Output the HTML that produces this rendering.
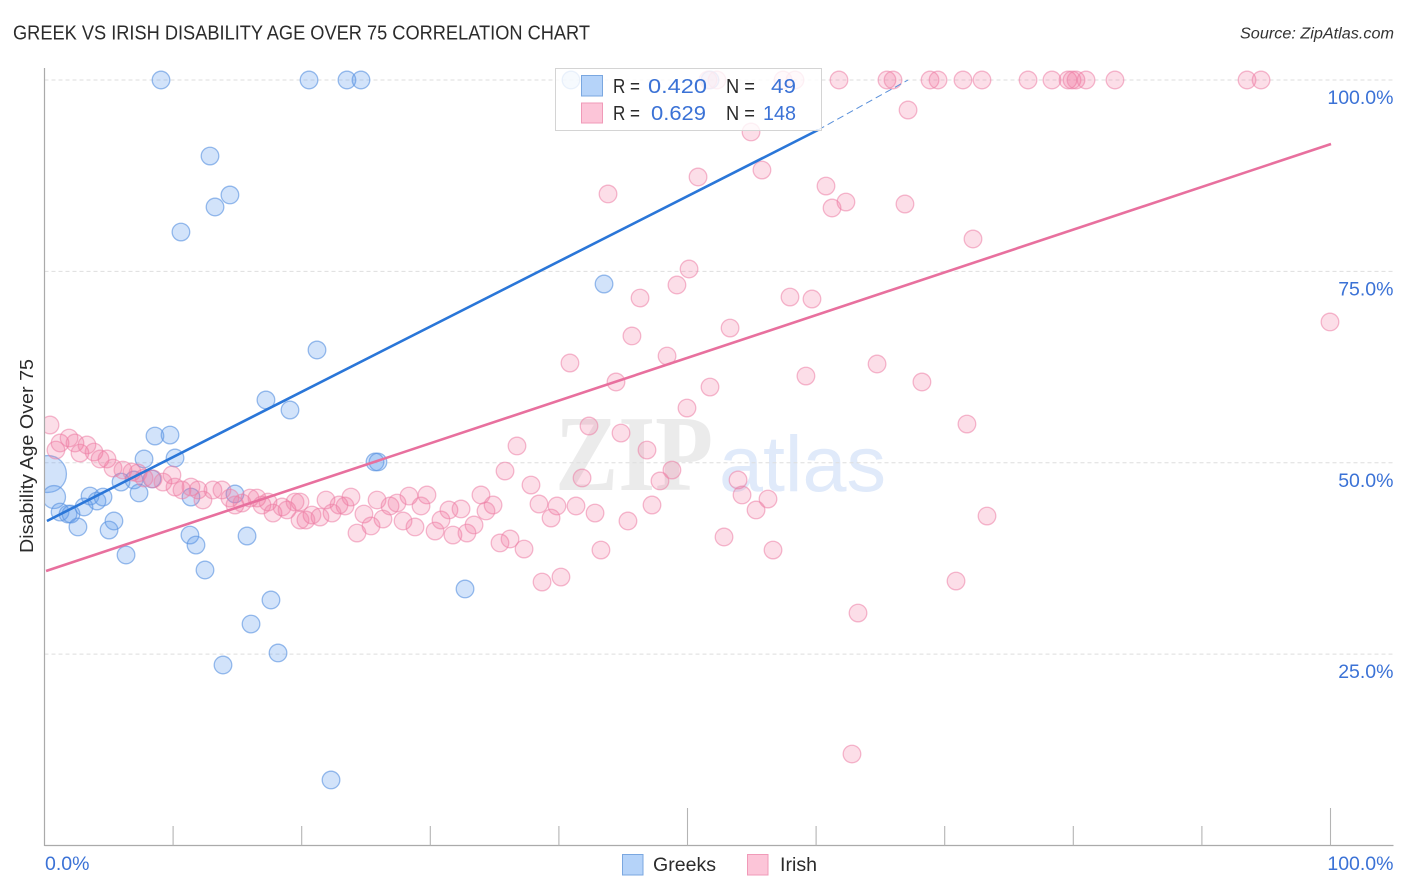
<!DOCTYPE html>
<html lang="en">
<head>
<meta charset="utf-8">
<title>Greek vs Irish Disability Age Over 75 Correlation Chart</title>
<style>
html,body{margin:0;padding:0;background:#fff;}
svg{display:block;font-family:"Liberation Sans",sans-serif;}
</style>
</head>
<body>
<svg id="chart" xmlns="http://www.w3.org/2000/svg" width="1406" height="892" viewBox="0 0 1406 892">
  <defs>
    <clipPath id="plot-clip"><rect x="44.5" y="60" width="1349" height="786"></rect></clipPath>
  </defs>
  <rect x="0" y="0" width="1406" height="892" fill="#ffffff"></rect>
  <text x="13" y="39.5" font-size="20" fill="#2b2b2b" textLength="577" lengthAdjust="spacingAndGlyphs">GREEK VS IRISH DISABILITY AGE OVER 75 CORRELATION CHART</text>
  <text x="1394" y="38.5" font-size="15.5" font-style="italic" fill="#333333" text-anchor="end" textLength="154" lengthAdjust="spacingAndGlyphs">Source: ZipAtlas.com</text>
  <g>
    <text x="555" y="490" font-family="'Liberation Serif',serif" font-weight="bold" font-size="108" fill="#ebebeb" textLength="158" lengthAdjust="spacingAndGlyphs">ZIP</text>
    <text x="719" y="491" font-size="79" fill="#e0eafa" textLength="167" lengthAdjust="spacingAndGlyphs">atlas</text>
  </g>
  <g id="grid"></g>
  <g id="points" clip-path="url(#plot-clip)"></g>
  <g id="trends"></g>
  <g id="axes"></g>
  <text transform="translate(33 456) rotate(-90)" font-size="18.5" fill="#2b2b2b" text-anchor="middle" textLength="194" lengthAdjust="spacingAndGlyphs">Disability Age Over 75</text>
  <g>
    <rect x="555.5" y="68.5" width="266" height="62" fill="#ffffff" fill-opacity="0.8" stroke="#d4d4d4" stroke-width="1"></rect>
    <rect x="581.5" y="75.5" width="21" height="20.5" fill="#b5d3f9" stroke="#7aa7e0"></rect>
    <rect x="581.5" y="103" width="21" height="20" fill="#fcc5d8" stroke="#f09ab8"></rect>
    <g font-size="20.5">
      <text x="613" y="93" fill="#2b2b2b" textLength="27" lengthAdjust="spacingAndGlyphs">R =</text>
      <text x="648" y="93" fill="#3b72d6" textLength="59" lengthAdjust="spacingAndGlyphs">0.420</text>
      <text x="726" y="93" fill="#2b2b2b" textLength="29" lengthAdjust="spacingAndGlyphs">N =</text>
      <text x="771" y="93" fill="#3b72d6" textLength="25" lengthAdjust="spacingAndGlyphs">49</text>
      <text x="613" y="120" fill="#2b2b2b" textLength="27" lengthAdjust="spacingAndGlyphs">R =</text>
      <text x="651" y="120" fill="#3b72d6" textLength="55" lengthAdjust="spacingAndGlyphs">0.629</text>
      <text x="726" y="120" fill="#2b2b2b" textLength="29" lengthAdjust="spacingAndGlyphs">N =</text>
      <text x="763" y="120" fill="#3b72d6" textLength="33" lengthAdjust="spacingAndGlyphs">148</text>
    </g>
  </g>
  <g>
    <rect x="622.5" y="854.5" width="20.5" height="20.5" fill="#b5d3f9" stroke="#7aa7e0"></rect>
    <text x="653" y="871" font-size="19.5" fill="#2b2b2b" textLength="63" lengthAdjust="spacingAndGlyphs">Greeks</text>
    <rect x="747.5" y="854.5" width="20.5" height="20.5" fill="#fcc5d8" stroke="#f09ab8"></rect>
    <text x="780" y="871" font-size="19.5" fill="#2b2b2b" textLength="37" lengthAdjust="spacingAndGlyphs">Irish</text>
  </g>
</svg>
<script>
const greekX = [0.27,0.74,9.06,20.57,23.52,24.61,40.94,51.75,12.87,13.26,14.42,10.61,43.51,21.19,17.22,19.09,8.59,9.76,10.15,7.74,25.70,25.93,5.95,6.96,7.35,8.36,3.54,4.08,4.55,11.39,14.81,1.21,1.83,2.06,3.07,2.60,5.02,5.40,6.34,11.31,11.78,12.48,15.75,17.61,16.06,18.16,13.88,22.28,32.70];
const greekY = [48.53,45.52,100,100,100,100,100,100,90.07,83.41,84.98,80.14,73.35,64.73,58.20,56.89,53.49,53.62,50.62,50.49,50.10,50.10,47.48,47.75,46.05,47.88,45.65,45.00,45.52,45.52,45.92,43.56,43.30,43.30,44.22,41.61,41.21,42.39,37.95,40.56,39.25,35.99,40.43,32.07,28.93,25.15,23.58,8.56,33.51];
const greekWeight = [4.4,1.7];
const irishX = [51.59,52.29,57.43,58.36,61.78,65.51,65.98,68.86,69.48,71.42,72.90,76.48,78.34,79.59,79.90,80.21,80.99,83.24,93.51,94.60,
67.15,54.94,55.79,50.82,43.82,60.77,62.32,61.24,66.91,72.20,50.12,49.18,46.31,57.97,59.68,53.31,99.96,45.68,48.41,40.86,64.74,59.21,44.44,51.75,68.23,49.96,42.34,71.73,44.83,36.74,46.85,35.81,48.79,41.80,47.86,53.93,37.83,54.24,56.26,38.45,47.24,39.85,41.33,42.81,39.39,55.33,45.37,73.29,52.84,35.42,36.20,37.29,43.27,56.65,38.69,40.16,70.88,63.26,62.79,
21.89,22.90,23.83,23.37,22.36,21.42,20.80,20.33,19.87,24.84,25.86,26.87,27.41,28.34,29.74,29.28,27.88,26.32,25.39,24.30,28.81,30.37,30.83,31.45,32.39,31.76,32.85,33.40,33.94,34.88,34.33,
0.43,0.89,1.21,1.91,2.37,2.76,3.30,3.85,4.32,4.86,5.33,6.10,6.80,7.27,7.74,8.44,9.21,9.91,10.15,10.69,11.39,11.94,12.32,13.10,13.80,14.42,14.81,15.36,15.98,16.52,16.91,17.38,17.77,18.47,18.86,19.48,19.87];
const irishY = [100,100,100,100,100,100,100,100,100,100,100,100,100,100,100,100,100,100,100,100,
96.08,93.21,88.24,87.33,85.11,86.15,84.06,83.28,83.80,79.23,75.31,73.22,71.52,71.65,71.39,67.60,68.39,66.56,63.94,63.03,62.90,61.33,60.55,59.89,60.55,57.15,54.80,55.06,53.88,52.19,51.66,48.92,49.05,48.01,47.62,47.75,47.09,45.79,45.26,44.61,44.48,44.35,44.35,43.43,42.78,43.83,42.39,43.04,40.30,39.52,40.04,38.73,38.60,38.60,34.42,35.07,34.55,30.37,11.95,
45.13,44.48,45.52,44.35,43.43,42.91,43.17,42.52,44.87,43.30,45.13,44.35,44.74,45.65,45.79,44.35,42.39,42.65,41.74,40.82,41.61,41.08,42.52,43.83,43.96,40.56,40.82,41.87,45.79,44.48,43.70,
54.93,51.66,52.58,53.23,52.58,51.27,52.32,51.40,50.49,50.49,49.31,49.05,48.79,48.66,48.01,47.88,47.48,48.40,46.83,46.44,46.83,46.44,45.13,46.44,46.44,45.39,44.48,44.74,45.39,45.39,44.48,44.87,43.43,44.22,43.83,44.87,42.52];
const greekTrendX = [0.19,60.15,67.15];
const greekTrendY = [42.39,93.47,100];
const irishTrendX = [0.12,100.04];
const irishTrendY = [35.86,91.64];
const yTicks = [100,75,50,25];
const yTickLabels = ["100.0%","75.0%","50.0%","25.0%"];
const xTicks = [10,20,30,40,50,60,70,80,90,100];
const xMajorTicks = [50,100];
const xTickLabels = ["0.0%","100.0%"];

const NS = "http://www.w3.org/2000/svg";
const plot = {left:44.5, right:1330.5, top:80, bottom:845.5, axisEnd:1393.5, axisTop:68};
const baseRadius = 8.8;
function xScale(v){ return plot.left + (v/100)*(plot.right-plot.left); }
function yScale(v){ return plot.bottom - (v/100)*(plot.bottom-plot.top); }
function make(tag, parent, attrs){
  const el = document.createElementNS(NS, tag);
  for (const k in attrs) el.setAttribute(k, attrs[k]);
  parent.appendChild(el);
  return el;
}
const gridG = document.getElementById('grid');
const pointsG = document.getElementById('points');
const trendsG = document.getElementById('trends');
const axesG = document.getElementById('axes');

yTicks.forEach(function(t, i){
  const line = make('line', gridG, {x1:plot.left, x2:plot.axisEnd, y1:yScale(t), y2:yScale(t), stroke:'#dedede', 'stroke-width':1, 'stroke-dasharray':'4 3'});
  
  
  const label = make('text', axesG, {x:1393.5, y:yScale(t)+24, 'font-size':19.5, fill:'#3b72d6', 'text-anchor':'end'});
  
  
  label.textContent = yTickLabels[i];
});

greekX.forEach(function(x, i){
  const w = greekWeight[i] === undefined ? 1 : greekWeight[i];
  const c = make('circle', pointsG, {cx:xScale(x), cy:yScale(greekY[i]), r:baseRadius*Math.sqrt(w), fill:'#5e9bec', 'fill-opacity':0.28, stroke:'#5b93e0', 'stroke-opacity':0.62, 'stroke-width':1.3});
  
  
});
irishX.forEach(function(x, i){
  const c = make('circle', pointsG, {cx:xScale(x), cy:yScale(irishY[i]), r:baseRadius, fill:'#f2709c', 'fill-opacity':0.23, stroke:'#ec7fa5', 'stroke-opacity':0.55, 'stroke-width':1.3});
  
  
});

const blueSolid = make('line', trendsG, {x1:xScale(greekTrendX[0]), y1:yScale(greekTrendY[0]), x2:xScale(greekTrendX[1]), y2:yScale(greekTrendY[1]), stroke:'#2a76d8', 'stroke-width':2.6});


const blueDash = make('line', trendsG, {x1:xScale(greekTrendX[1]), y1:yScale(greekTrendY[1]), x2:xScale(greekTrendX[2]), y2:yScale(greekTrendY[2]), stroke:'#5a90da', 'stroke-width':1, 'stroke-dasharray':'7 4'});


const pinkLine = make('line', trendsG, {x1:xScale(irishTrendX[0]), y1:yScale(irishTrendY[0]), x2:xScale(irishTrendX[1]), y2:yScale(irishTrendY[1]), stroke:'#e8709e', 'stroke-width':2.6});



const yAxis = make('line', axesG, {x1:plot.left, x2:plot.left, y1:plot.axisTop, y2:846, stroke:'#aaaaaa', 'stroke-width':1.2});


const xAxis = make('line', axesG, {x1:plot.left, x2:plot.axisEnd, y1:845.5, y2:845.5, stroke:'#aaaaaa', 'stroke-width':1.2});


xTicks.forEach(function(t){
  const major = xMajorTicks.indexOf(t) >= 0;
  const tick = make('line', axesG, {x1:xScale(t), x2:xScale(t), y1:major ? 808 : 826, y2:845.5, stroke:'#b4b4b4', 'stroke-width':1.1});
  
  
});
const xLabelLeft = make('text', axesG, {x:45, y:870, 'font-size':19.5, fill:'#3b72d6'});


xLabelLeft.textContent = xTickLabels[0];
const xLabelRight = make('text', axesG, {x:1393.5, y:870, 'font-size':19.5, fill:'#3b72d6', 'text-anchor':'end'});


xLabelRight.textContent = xTickLabels[1];
</script>
</body>
</html>
